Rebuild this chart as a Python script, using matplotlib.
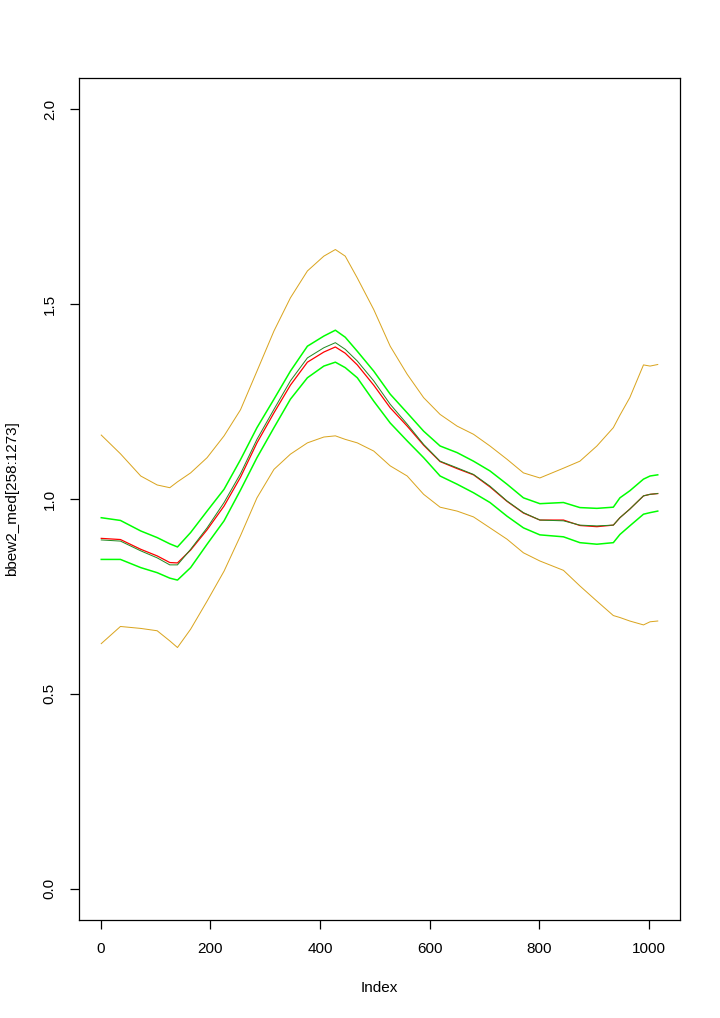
import numpy as np
import matplotlib
matplotlib.use('Agg')
import matplotlib.pyplot as plt

plt.rcParams['font.family'] = ['Liberation Sans', 'DejaVu Sans']

idx = [1, 36, 73, 103, 126, 140, 164, 194, 225, 255, 285, 316, 346, 377, 407,
       428, 446, 468, 498, 528, 559, 589, 619, 650, 680, 710, 741, 771, 801,
       844, 874, 905, 935, 947, 965, 990, 1002, 1016]

orange_hi = [1.164, 1.116, 1.059, 1.036, 1.029, 1.044, 1.067, 1.106, 1.162, 1.229,
             1.328, 1.431, 1.516, 1.585, 1.623, 1.640, 1.623, 1.567, 1.486, 1.392,
             1.320, 1.260, 1.217, 1.187, 1.166, 1.136, 1.102, 1.067, 1.054, 1.079,
             1.097, 1.136, 1.183, 1.215, 1.260, 1.344, 1.341, 1.345]
green_hi = [0.952, 0.945, 0.918, 0.901, 0.885, 0.877, 0.914, 0.969, 1.025, 1.101,
            1.183, 1.256, 1.328, 1.392, 1.418, 1.433, 1.415, 1.379, 1.328, 1.269,
            1.221, 1.174, 1.136, 1.119, 1.097, 1.072, 1.038, 1.003, 0.988, 0.991,
            0.978, 0.976, 0.979, 1.003, 1.021, 1.051, 1.059, 1.062]
med = [0.895, 0.892, 0.867, 0.849, 0.831, 0.831, 0.871, 0.926, 0.991, 1.065,
       1.153, 1.230, 1.303, 1.362, 1.388, 1.401, 1.384, 1.354, 1.303, 1.243,
       1.192, 1.140, 1.097, 1.080, 1.063, 1.033, 0.995, 0.965, 0.946, 0.944,
       0.933, 0.931, 0.933, 0.952, 0.974, 1.008, 1.012, 1.014]
red = [0.899, 0.896, 0.871, 0.854, 0.837, 0.836, 0.869, 0.921, 0.982, 1.056,
       1.144, 1.221, 1.292, 1.351, 1.377, 1.390, 1.374, 1.344, 1.292, 1.234,
       1.187, 1.138, 1.096, 1.078, 1.062, 1.031, 0.994, 0.964, 0.946, 0.946,
       0.932, 0.929, 0.933, 0.952, 0.974, 1.008, 1.012, 1.014]
green_lo = [0.845, 0.845, 0.824, 0.811, 0.797, 0.792, 0.824, 0.884, 0.944, 1.023,
            1.106, 1.183, 1.256, 1.311, 1.341, 1.351, 1.337, 1.311, 1.251, 1.195,
            1.149, 1.106, 1.059, 1.038, 1.016, 0.991, 0.956, 0.926, 0.908, 0.903,
            0.888, 0.884, 0.888, 0.909, 0.931, 0.961, 0.965, 0.969]
orange_lo = [0.629, 0.673, 0.668, 0.662, 0.636, 0.619, 0.666, 0.738, 0.815, 0.906,
             1.003, 1.076, 1.115, 1.144, 1.159, 1.162, 1.153, 1.144, 1.123, 1.085,
             1.059, 1.012, 0.979, 0.969, 0.954, 0.926, 0.897, 0.862, 0.841, 0.817,
             0.777, 0.738, 0.701, 0.696, 0.687, 0.677, 0.685, 0.687]

xticks = [0, 200, 400, 600, 800, 1000]
yticks = [0.0, 0.5, 1.0, 1.5, 2.0]

fig = plt.figure(figsize=(7.2, 10.18), dpi=100)
ax = fig.add_axes([79 / 720, 98 / 1018, 601 / 720, 842 / 1018])

lw = 0.72  # about one pixel
ax.plot(idx, orange_hi, color='#DAA520', lw=lw)
ax.plot(idx, orange_lo, color='#DAA520', lw=lw)
ax.plot(idx, green_hi, color='#00FF00', lw=1.1)
ax.plot(idx, green_lo, color='#00FF00', lw=1.1)
ax.plot(idx, red, color='red', lw=0.9)
ax.plot(idx, med, color='#228B22', lw=lw)

n = 1016
pad = 0.04 * (n - 1)
ax.set_xlim(1 - pad, n + pad)
ax.set_ylim(-0.08, 2.08)

ax.set_xticks(xticks)
ax.set_xticklabels([str(t) for t in xticks])
ax.set_yticks(yticks)
ax.set_yticklabels(['%.1f' % t for t in yticks], rotation=90, va='center')
ax.tick_params(direction='out', length=6.5, width=0.9, labelsize=11, pad=9.5,
               color='black')
for s in ax.spines.values():
    s.set_linewidth(0.9)

fig.text(379.5 / 720, 1 - 988 / 1018, 'Index', ha='center', va='center', fontsize=11)
fig.text(12.5 / 720, 1 - 499 / 1018, 'bbew2_med[258:1273]', ha='center', va='center',
         rotation=90, fontsize=11)

fig.savefig('out.png', dpi=100)
